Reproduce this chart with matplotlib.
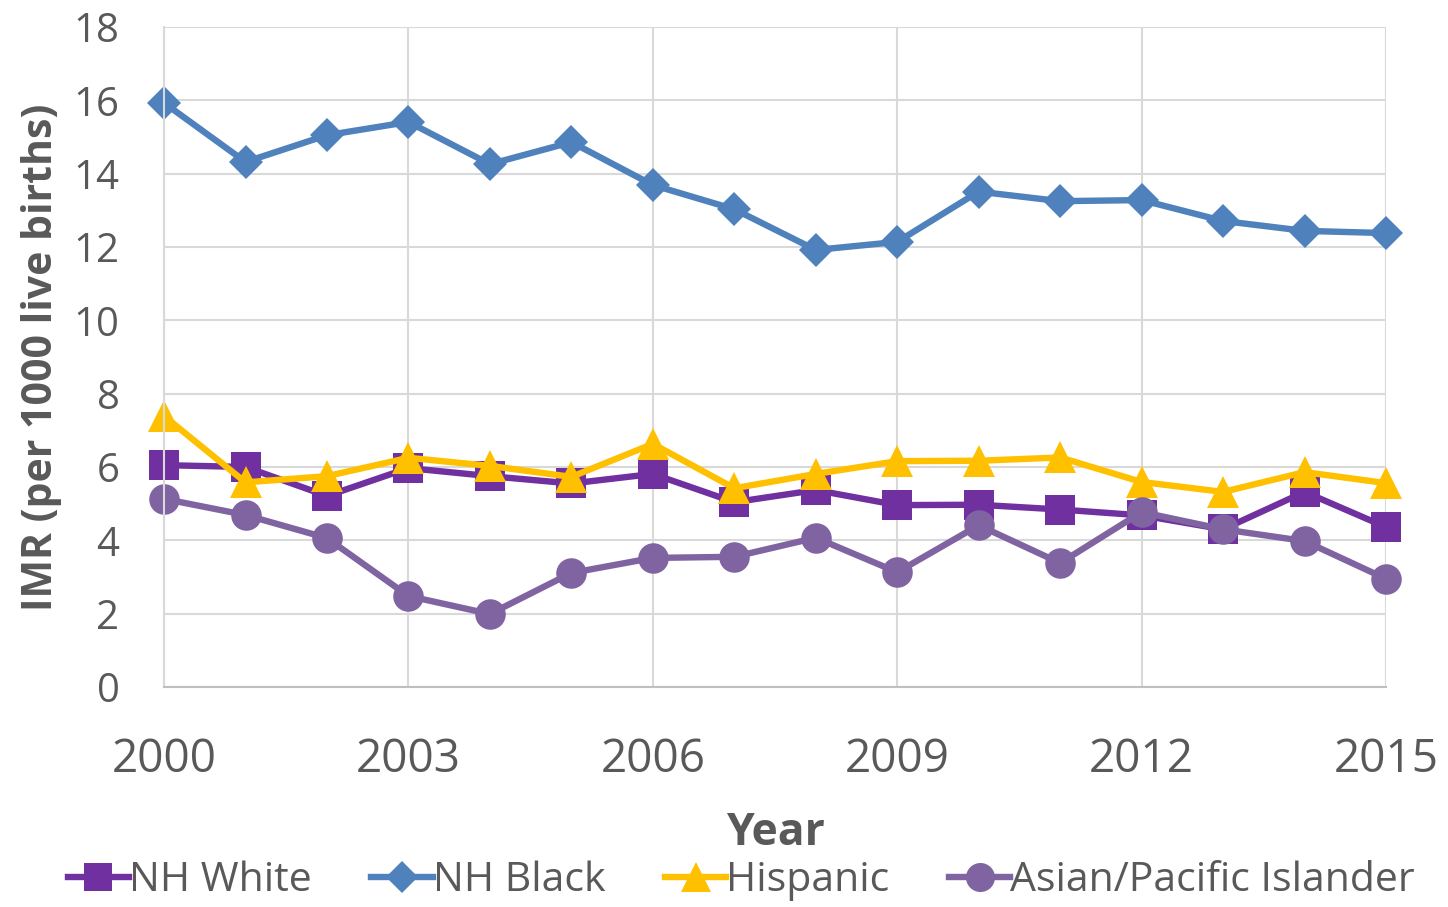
import matplotlib
matplotlib.use('Agg')
import matplotlib.pyplot as plt

plt.rcParams['font.family'] = ['Open Sans', 'DejaVu Sans']

years = list(range(2000, 2016))

# IMR values (per 1000 live births)
nh_white = [6.05, 6.0, 5.21, 5.97, 5.75, 5.55, 5.81, 5.04, 5.37, 4.96, 4.97, 4.84, 4.68, 4.3, 5.32, 4.36]
nh_black = [15.93, 14.32, 15.05, 15.41, 14.26, 14.86, 13.69, 13.03, 11.92, 12.14, 13.51, 13.25, 13.28, 12.71, 12.44, 12.38]
hispanic = [7.39, 5.58, 5.75, 6.25, 6.03, 5.73, 6.63, 5.42, 5.81, 6.16, 6.17, 6.26, 5.59, 5.32, 5.86, 5.56]
asian_pi = [5.13, 4.69, 4.06, 2.48, 1.99, 3.11, 3.52, 3.55, 4.07, 3.13, 4.41, 3.38, 4.77, 4.3, 3.98, 2.95]

series_names = ['NH White', 'NH Black', 'Hispanic', 'Asian/Pacific Islander']
colors = ['#7030A0', '#4F81BD', '#FFC000', '#8064A2']
markers = ['s', 'D', '^', 'o']
msizes = [21, 17, 23, 22]

xticks = [2000, 2003, 2006, 2009, 2012, 2015]
yticks = list(range(0, 19, 2))

fig = plt.figure(figsize=(14.48, 9.07), dpi=100)
ax = fig.add_axes([0.1133, 0.2426, 0.8439, 0.7276])

for vals, name, c, m, ms in zip([nh_white, nh_black, hispanic, asian_pi], series_names, colors, markers, msizes):
    ax.plot(years, vals, color=c, lw=4.6, marker=m, markersize=ms, label=name,
            markeredgewidth=0, clip_on=False)

ax.set_xlim(2000, 2015)
ax.set_ylim(0, 18)
ax.set_xticks(xticks)
ax.set_yticks(yticks)
ax.grid(True, color='#d9d9d9', lw=1.5)
ax.set_axisbelow(True)
for s in ['top', 'right']:
    ax.spines[s].set_visible(False)
ax.spines['left'].set_color('#d9d9d9')
ax.spines['bottom'].set_color('#bfbfbf')
ax.spines['left'].set_linewidth(1.5)
ax.spines['bottom'].set_linewidth(1.5)

ax.tick_params(axis='x', length=0, labelsize=33, labelcolor='#595959', pad=36)
ax.tick_params(axis='y', length=0, labelsize=29, labelcolor='#595959', pad=32)

ax.set_xlabel('Year', fontsize=32, fontweight='bold', color='#595959', labelpad=20)
ax.set_ylabel('IMR (per 1000 live births)', fontsize=29.5, fontweight='bold', color='#595959', labelpad=8)

leg = fig.legend(loc='lower center', bbox_to_anchor=(0.512, -0.034), ncol=4, frameon=False,
                 fontsize=29.5, handlelength=1.5, handletextpad=0.0, columnspacing=1.45,
                 markerscale=0.95)
for t in leg.get_texts():
    t.set_color('#595959')

fig.savefig('out.png', dpi=100)
